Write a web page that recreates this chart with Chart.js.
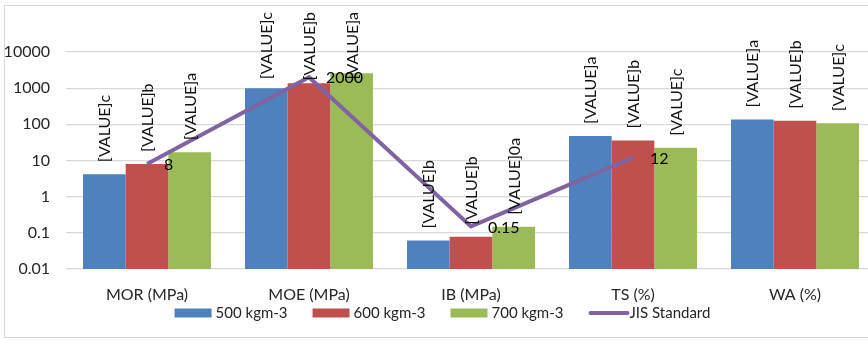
<!DOCTYPE html>
<html>
<head>
<meta charset="utf-8">
<script src="https://cdn.jsdelivr.net/npm/chart.js@4"></script>
<style>
  html, body { margin: 0; padding: 0; background: #fff; width: 868px; height: 340px; overflow: hidden; }
  #box { position: absolute; left: 4px; top: 5px; width: 875px; height: 331px; border: 1px solid #d9d9d9; background: #fff; }
  canvas { display: block; }
</style>
</head>
<body>
<div id="box"><canvas id="c"></canvas></div>
<script>
// Board properties by density, log scale
const categories = ['MOR (MPa)', 'MOE (MPa)', 'IB (MPa)', 'TS (%)', 'WA (%)'];
const seriesNames = ['500 kgm-3', '600 kgm-3', '700 kgm-3', 'JIS Standard'];
const d500 = [4.2, 990, 0.061, 47.5, 137];
const d600 = [8.0, 1360, 0.078, 36, 126];
const d700 = [16.8, 2570, 0.148, 22.6, 107];
const jis = [8, 2000, 0.15, 12, null];
const jisLabels = ['8', '2000', '0.15', '12', ''];
const letters500 = ['c', 'c', 'b', 'a', 'a'];
const letters600 = ['b', 'b', 'b', 'b', 'b'];
const letters700 = ['a', 'a', '0a', 'c', 'c'];
const yTicks = [0.01, 0.1, 1, 10, 100, 1000, 10000];
const yTickLabels = ['0.01', '0.1', '1', '10', '100', '1000', '10000'];

const FONT = 'Lato, "Liberation Sans", Arial, sans-serif';
const BLUE = '#4F81BD', RED = '#C0504D', GREEN = '#9BBB59', PURPLE = '#8064A2';
const TEXT = '#262626';
const barLetters = [letters500, letters600, letters700];

// Rotated "[VALUE]x" tags above each bar, and standard values beside the line
const barTags = {
  id: 'barTags',
  afterDatasetsDraw(chart) {
    const ctx = chart.ctx;
    ctx.save();
    ctx.font = '16px ' + FONT;
    ctx.fillStyle = '#111';
    ctx.textAlign = 'left';
    ctx.textBaseline = 'middle';
    barLetters.forEach((letters, di) => {
      const meta = chart.getDatasetMeta(di);
      meta.data.forEach((bar, j) => {
        const text = '[VALUE]' + letters[j];
        const w = ctx.measureText(text).width;
        let y0 = bar.y - 12;
        if (y0 - w < 6) y0 = 6 + w;
        ctx.save();
        ctx.translate(bar.x + 1, y0);
        ctx.rotate(-Math.PI / 2);
        ctx.fillText(text, 0, 0);
        ctx.restore();
      });
    });
    const lm = chart.getDatasetMeta(3);
    ctx.font = '16px ' + FONT;
    ctx.fillStyle = '#000';
    lm.data.forEach((pt, j) => {
      if (jis[j] == null) return;
      ctx.fillText(jisLabels[j], pt.x + 17, pt.y + 1);
    });
    ctx.restore();
  }
};

// Single-row legend under the category labels
const LEG = { y: 307, box: 37, boxH: 9, gap: 4, spacing: 25 };
const rowLegend = {
  id: 'rowLegend',
  afterDraw(chart) {
    const ctx = chart.ctx;
    const dss = chart.data.datasets;
    ctx.save();
    ctx.font = '15px ' + FONT;
    ctx.textBaseline = 'middle';
    ctx.textAlign = 'left';
    const widths = dss.map(ds => LEG.box + LEG.gap + ctx.measureText(ds.label).width);
    const total = widths.reduce((a, b) => a + b, 0) + LEG.spacing * (dss.length - 1);
    let x = chart.width / 2 - total / 2;
    dss.forEach((ds, i) => {
      if (ds.type === 'line') {
        ctx.strokeStyle = ds.borderColor;
        ctx.lineWidth = 4;
        ctx.lineCap = 'round';
        ctx.beginPath();
        ctx.moveTo(x + 2, LEG.y);
        ctx.lineTo(x + LEG.box + 2, LEG.y);
        ctx.stroke();
      } else {
        ctx.fillStyle = ds.backgroundColor;
        ctx.fillRect(x, LEG.y - LEG.boxH / 2, LEG.box, LEG.boxH);
      }
      ctx.fillStyle = TEXT;
      ctx.fillText(ds.label, x + LEG.box + LEG.gap, LEG.y);
      x += widths[i] + LEG.spacing;
    });
    ctx.restore();
  }
};

new Chart(document.getElementById('c'), {
  data: {
    labels: categories,
    datasets: [
      { type: 'bar', label: seriesNames[0], data: d500, backgroundColor: BLUE, order: 1 },
      { type: 'bar', label: seriesNames[1], data: d600, backgroundColor: RED, order: 1 },
      { type: 'bar', label: seriesNames[2], data: d700, backgroundColor: GREEN, order: 1 },
      { type: 'line', label: seriesNames[3], data: jis, borderColor: PURPLE, backgroundColor: PURPLE,
        borderWidth: 4, pointRadius: 0, pointHoverRadius: 0, tension: 0, spanGaps: false, order: 0 }
    ]
  },
  options: {
    responsive: true,
    maintainAspectRatio: false,
    animation: false,
    layout: { padding: { top: 46, right: 4, bottom: 32, left: 0 } },
    datasets: { bar: { categoryPercentage: 0.79, barPercentage: 1 } },
    scales: {
      x: {
        grid: { display: false, drawTicks: false },
        border: { display: false },
        ticks: { color: TEXT, font: { family: FONT, size: 16 }, padding: 16 },
        afterFit(s) { s.height = 36; }
      },
      y: {
        type: 'logarithmic',
        min: 0.01,
        max: 10000,
        grid: { color: '#d9d9d9', lineWidth: 1.3, drawTicks: false },
        border: { display: false },
        afterBuildTicks(s) { s.ticks = yTicks.map(v => ({ value: v })); },
        ticks: {
          color: TEXT, font: { family: FONT, size: 16 }, padding: 16,
          callback: (v, i) => yTickLabels[i]
        },
        afterFit(s) { s.width = 61; }
      }
    },
    plugins: {
      tooltip: { enabled: false },
      legend: { display: false }
    }
  },
  plugins: [barTags, rowLegend]
});
</script>
</body>
</html>
